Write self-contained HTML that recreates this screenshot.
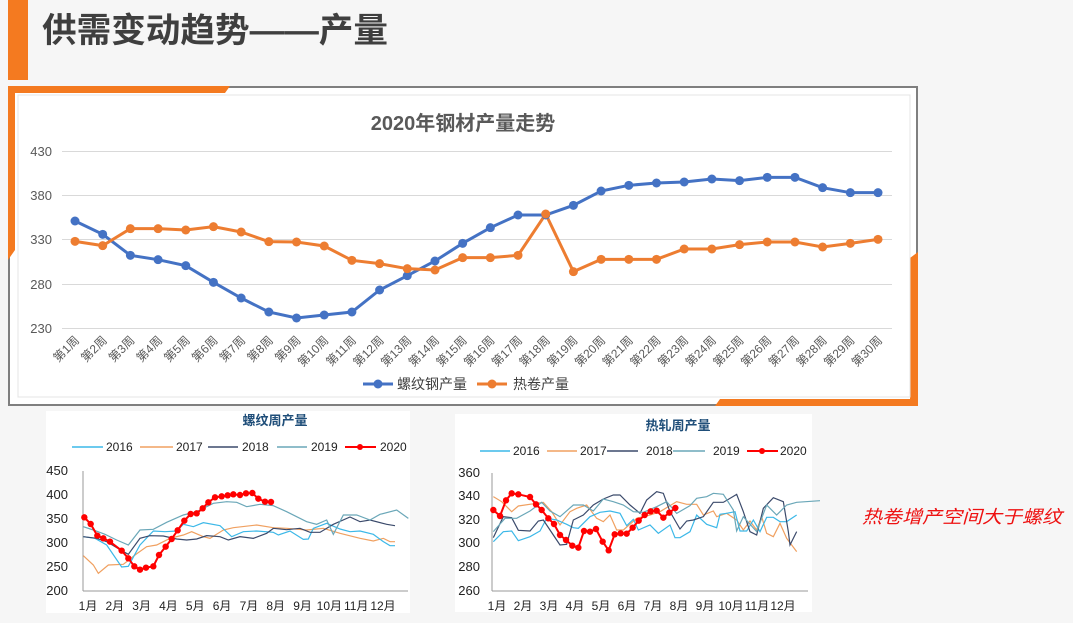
<!DOCTYPE html>
<html><head><meta charset="utf-8"><style>
body{margin:0;width:1073px;height:618px;overflow:hidden;background:#f6f6f6;font-family:"Liberation Sans","Noto Sans CJK SC",sans-serif}
</style></head><body>
<svg width="1073" height="618" viewBox="0 0 1073 618" xmlns="http://www.w3.org/2000/svg" font-family="Liberation Sans, Noto Sans CJK SC, sans-serif">
<rect x="0" y="0" width="1073" height="618" fill="#f6f6f6"/>
<rect x="8" y="0" width="20" height="80" fill="#f47a20"/>
<text x="42" y="42" font-size="34" font-weight="bold" fill="#3f3f3f" textLength="346" lengthAdjust="spacingAndGlyphs">供需变动趋势——产量</text>

<rect x="9" y="87" width="908" height="318" fill="#fff" stroke="#7f7f7f" stroke-width="2"/>
<polygon points="8,86 230,86 225,93 15,93 15,250 8,260" fill="#f47a20"/>
<polygon points="918,252 918,406 715,406 720,399 910,399 910,258" fill="#f47a20"/>
<rect x="18" y="95" width="892" height="302" fill="#fff" stroke="#e4e4e4"/>
<text x="463" y="130" font-size="20" font-weight="bold" fill="#595959" text-anchor="middle">2020年钢材产量走势</text>
<g stroke="#d9d9d9" stroke-width="1">
<line x1="62" y1="151.5" x2="892" y2="151.5"/><line x1="62" y1="195.5" x2="892" y2="195.5"/><line x1="62" y1="239.5" x2="892" y2="239.5"/><line x1="62" y1="284.5" x2="892" y2="284.5"/><line x1="62" y1="328.5" x2="892" y2="328.5"/>
</g>
<g font-size="13" fill="#595959" text-anchor="end">
<text x="52" y="156">430</text><text x="52" y="200">380</text><text x="52" y="244">330</text><text x="52" y="289">280</text><text x="52" y="333">230</text>
</g>
<g id="xl" font-size="12" fill="#595959" text-anchor="end"></g>
<polyline id="bl" fill="none" stroke="#4472c4" stroke-width="3"/>
<polyline id="ol" fill="none" stroke="#ed7d31" stroke-width="3"/>
<g id="bm" fill="#4472c4"></g><g id="om" fill="#ed7d31"></g>
<line x1="363" y1="384" x2="393" y2="384" stroke="#4472c4" stroke-width="3"/><circle cx="378" cy="384" r="4.5" fill="#4472c4"/>
<text x="397" y="389" font-size="14" fill="#404040">螺纹钢产量</text>
<line x1="477" y1="384" x2="507" y2="384" stroke="#ed7d31" stroke-width="3"/><circle cx="492" cy="384" r="4.5" fill="#ed7d31"/>
<text x="513" y="389" font-size="14" fill="#404040">热卷产量</text>

<rect x="46" y="411" width="364" height="202" fill="#fff"/>
<text x="275" y="425" font-size="13" font-weight="bold" fill="#1f4e79" text-anchor="middle">螺纹周产量</text>
<g font-size="12" fill="#222">
<line x1="72" y1="447" x2="103" y2="447" stroke="#3cb8e8" stroke-width="1.5"/><text x="106" y="451">2016</text>
<line x1="140" y1="447" x2="173" y2="447" stroke="#f0a060" stroke-width="1.5"/><text x="176" y="451">2017</text>
<line x1="208" y1="447" x2="238" y2="447" stroke="#3b4a6b" stroke-width="1.5"/><text x="242" y="451">2018</text>
<line x1="277" y1="447" x2="307" y2="447" stroke="#6aa7b8" stroke-width="1.5"/><text x="311" y="451">2019</text>
<line x1="345" y1="447" x2="376" y2="447" stroke="#ff0000" stroke-width="2"/><circle cx="360" cy="447" r="3" fill="#ff0000"/><text x="380" y="451">2020</text>
</g>
<g font-size="13" fill="#222" text-anchor="end"><text x="68" y="475">450</text><text x="68" y="499">400</text><text x="68" y="523">350</text><text x="68" y="547">300</text><text x="68" y="571">250</text><text x="68" y="595">200</text></g>
<line x1="83" y1="471" x2="83" y2="591" stroke="#999"/><line x1="83" y1="591" x2="408" y2="591" stroke="#999"/>
<g id="lm" font-size="12" fill="#222" text-anchor="middle"></g>
<g id="lc" fill="none" stroke-width="1.2"></g>

<rect x="455" y="414" width="357" height="198" fill="#fff"/>
<text x="678" y="430" font-size="13" font-weight="bold" fill="#1f4e79" text-anchor="middle">热轧周产量</text>
<g font-size="12" fill="#222">
<line x1="480" y1="451" x2="510" y2="451" stroke="#3cb8e8" stroke-width="1.5"/><text x="513" y="455">2016</text>
<line x1="547" y1="451" x2="577" y2="451" stroke="#f0a060" stroke-width="1.5"/><text x="580" y="455">2017</text>
<line x1="607" y1="451" x2="638" y2="451" stroke="#3b4a6b" stroke-width="1.5"/><text x="646" y="455">2018</text>
<line x1="673" y1="451" x2="705" y2="451" stroke="#6aa7b8" stroke-width="1.5"/><text x="713" y="455">2019</text>
<line x1="747" y1="451" x2="778" y2="451" stroke="#ff0000" stroke-width="2"/><circle cx="762" cy="451" r="3" fill="#ff0000"/><text x="780" y="455">2020</text>
</g>
<g font-size="13" fill="#222" text-anchor="end"><text x="480" y="477">360</text><text x="480" y="500">340</text><text x="480" y="524">320</text><text x="480" y="547">300</text><text x="480" y="571">280</text><text x="480" y="595">260</text></g>
<line x1="492" y1="473" x2="492" y2="591" stroke="#999"/><line x1="492" y1="591" x2="808" y2="591" stroke="#999"/>
<g id="rm" font-size="12" fill="#222" text-anchor="middle"></g>
<g id="rc" fill="none" stroke-width="1.2"></g>

<text x="862" y="523" font-size="18" font-style="italic" fill="#ee1111" textLength="200" lengthAdjust="spacingAndGlyphs">热卷增产空间大于螺纹</text>
</svg>
<script>
var NS="http://www.w3.org/2000/svg";
function el(t,a,p,txt){var e=document.createElementNS(NS,t);for(var k in a)e.setAttribute(k,a[k]);if(txt)e.textContent=txt;document.getElementById(p)?document.getElementById(p).appendChild(e):p.appendChild(e);return e;}
var bz=[423,463,526,539,557,607,654,696,714,705,696,630,587,543,490,443,405,405,376,333,316,309,306,297,302,292,292,323,338,338];
var oz=[484,497,446,446,450,440,456,485,486,498,541,551,566,570,533,533,526,402,575,538,538,538,507,507,494,486,486,501,490,478];
var bp=[],op=[];
for(var i=0;i<30;i++){var x=75+27.69*i;var yb=80+bz[i]/3,yo=80+oz[i]/3;bp.push(x+","+yb);op.push(x+","+yo);
el("circle",{cx:x,cy:yb,r:4.5},"bm");el("circle",{cx:x,cy:yo,r:4.5},"om");
el("text",{x:x+5,y:341,transform:"rotate(-45 "+(x+5)+" 341)"},"xl","第"+(i+1)+"周");}
document.getElementById("bl").setAttribute("points",bp.join(" "));
document.getElementById("ol").setAttribute("points",op.join(" "));
function poly(g,pts,ox,oy,col,w){var s=pts.map(function(p){return (ox+p[0]/3)+","+(oy+p[1]/3)}).join(" ");el("polyline",{points:s,stroke:col,"stroke-width":w||1.2,fill:"none"},g);}
function months(g,x0,x1){for(var m=0;m<12;m++)el("text",{x:x0+(x1-x0)*m/11,y:610},g,(m+1)+"月");}
months("lm",88,383);months("rm",497,783);
var L16=[[130,395],[165,400],[200,420],[245,486],[265,484],[300,420],[340,378],[375,380],[410,378],[430,358],[460,365],[490,353],[540,362],[575,395],[610,380],[650,378],[700,382],[715,390],[750,378],[790,403],[805,402],[820,370],[860,355],[900,372],[930,380],[960,378],[1000,388],[1030,410],[1050,422],[1065,422]];
var L17=[[130,452],[160,480],[175,505],[205,480],[250,478],[285,450],[320,425],[350,420],[390,400],[430,390],[455,380],[490,395],[510,400],[550,375],[580,368],[650,360],[700,368],[740,370],[800,375],[850,370],[900,385],[960,400],[1000,408],[1030,400],[1050,410],[1065,410]];
var L18=[[130,395],[170,400],[200,410],[230,428],[265,448],[300,400],[330,392],[370,393],[410,402],[440,405],[470,402],[500,392],[540,395],[565,405],[600,395],[640,400],[680,385],[700,370],[740,374],[780,370],[810,382],[840,382],[880,358],[930,336],[960,350],[990,345],[1040,358],[1065,362]];
var L19=[[130,365],[160,375],[195,388],[230,405],[265,420],[300,375],[340,373],[380,352],[430,330],[470,320],[520,295],[560,290],[590,292],[620,305],[660,298],[700,302],[740,320],[770,335],[800,350],[830,358],[860,345],[880,388],[910,330],[950,330],[990,345],[1020,328],[1070,315],[1105,340]];
var L20=[[133,337],[152,357],[172,392],[190,400],[210,410],[245,437],[265,460],[283,484],[300,494],[318,488],[340,484],[357,450],[377,425],[395,402],[413,376],[433,347],[452,327],[470,325],[488,310],[505,292],[525,277],[545,274],[563,271],[580,268],[600,270],[618,265],[637,264],[655,281],[675,290],[693,291]];
poly("lc",L17,40,405,"#f0a060");poly("lc",L16,40,405,"#3cb8e8");poly("lc",L18,40,405,"#3b4a6b");poly("lc",L19,40,405,"#6aa7b8");poly("lc",L20,40,405,"#ff0000",2);
L20.forEach(function(p){el("circle",{cx:40+p[0]/3,cy:405+p[1]/3,r:3.2,fill:"#ff0000"},"lc");});
var R16=[[130,410],[160,380],[185,378],[205,407],[240,395],[270,378],[290,340],[320,345],[350,358],[370,368],[385,370],[420,335],[450,322],[480,318],[510,325],[530,362],[550,343],[565,375],[600,360],[625,385],[660,360],[675,398],[690,398],[720,380],[740,330],[770,358],[800,368],[810,328],[830,325],[855,320],[870,378],[890,378],[910,345],[930,380],[950,337],[970,337],[990,350],[1010,350],[1040,330]];
var R17=[[130,275],[155,290],[185,320],[205,303],[260,295],[280,292],[305,320],[330,360],[360,320],[380,310],[410,300],[440,340],[460,350],[480,330],[500,375],[520,375],[560,340],[600,330],[630,320],[680,290],[710,298],[740,298],[760,330],[790,318],[800,335],[830,325],[860,345],[880,375],[900,348],[920,375],[935,335],[950,385],[970,395],[990,355],[1010,400],[1040,440]];
var R18=[[130,398],[160,335],[185,338],[205,376],[240,378],[265,348],[280,345],[300,375],[330,420],[350,418],[370,345],[400,330],[430,300],[460,282],[490,270],[510,270],[540,300],[570,325],[590,285],[620,260],[640,265],[660,320],[690,372],[710,348],[730,345],[760,335],[790,292],[820,292],[860,268],[880,320],[900,380],[920,390],[940,310],[970,278],[1000,290],[1015,380],[1020,420],[1040,380]];
var R19=[[130,380],[165,340],[200,340],[240,318],[275,292],[300,318],[330,335],[370,300],[400,300],[430,318],[460,282],[490,290],[520,300],[550,320],[580,322],[620,305],[650,290],[680,325],[720,302],[740,280],[770,275],[790,265],[820,268],[850,315],[860,378],[880,335],[920,380],[950,300],[980,330],[1010,300],[1040,292],[1110,287]];
var R20=[[130,315],[150,333],[168,286],[185,265],[205,268],[240,276],[258,298],[275,315],[295,340],[312,357],[330,390],[348,405],[367,422],[385,428],[402,378],[420,380],[438,372],[458,410],[476,436],[494,388],[512,385],[530,386],[548,368],[566,347],[584,330],[602,319],[620,317],[640,338],[658,323],[676,309]];
poly("rc",R17,450,405,"#f0a060");poly("rc",R16,450,405,"#3cb8e8");poly("rc",R18,450,405,"#3b4a6b");poly("rc",R19,450,405,"#6aa7b8");poly("rc",R20,450,405,"#ff0000",2);
R20.forEach(function(p){el("circle",{cx:450+p[0]/3,cy:405+p[1]/3,r:3.2,fill:"#ff0000"},"rc");});
</script>
</body></html>
